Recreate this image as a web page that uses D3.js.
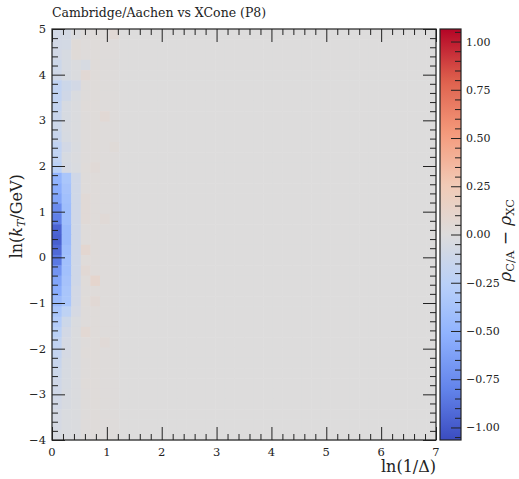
<!DOCTYPE html>
<html>
<head>
<meta charset="utf-8">
<script src="https://cdn.jsdelivr.net/npm/d3@7"></script>
<style>
  body { margin: 0; background: #fff; }
  text { font-family: "DejaVu Serif", serif; fill: #222; }
</style>
</head>
<body>
<svg class="canvas" width="519" height="479"></svg>
<script>
// bin layout of the histogram
const xRange = [0, 7];
const yRange = [-4, 5];
const nX = 40;
const nY = 40;

// rho_CA - rho_XC per bin, first columns of ln(1/Delta), listed from the top row (ln kT = 5) down
const col0 = [-0.08, -0.08, -0.08, -0.12, -0.1, -0.2, -0.2, -0.18, -0.15, -0.12,
  -0.15, -0.2, -0.2, -0.25, -0.5, -0.55, -0.6, -0.75, -0.82, -0.95,
  -0.97, -0.92, -0.85, -0.7, -0.6, -0.55, -0.45, -0.35, -0.3, -0.25,
  -0.2, -0.18, -0.15, -0.12, -0.1, -0.1, -0.08, -0.06, -0.06, -0.05];
const col1 = [-0.07, -0.07, -0.05, -0.05, -0.05, -0.12, -0.1, -0.05, -0.05, -0.04,
  -0.05, -0.08, -0.05, -0.06, -0.35, -0.38, -0.4, -0.42, -0.42, -0.45,
  -0.45, -0.42, -0.4, -0.4, -0.38, -0.36, -0.35, -0.22, -0.12, -0.08,
  -0.06, -0.06, -0.05, -0.05, -0.05, -0.04, -0.04, -0.03, -0.03, -0.03];
const col2 = [-0.02, 0.03, 0.03, -0.02, -0.02, -0.08, -0.03, -0.02, -0.02, -0.02,
  -0.02, -0.03, -0.02, -0.03, -0.1, -0.1, -0.1, -0.1, -0.1, -0.1,
  -0.1, -0.1, -0.1, -0.1, -0.1, -0.08, -0.08, -0.06, -0.03, -0.02,
  -0.02, -0.02, -0.02, -0.02, -0.02, -0.02, -0.02, -0.02, -0.02, -0.02];
const col3 = [0.01, 0.01, 0.01, -0.05, 0.05, 0.01, 0.01, 0.02, 0.01, 0.01,
  0.01, 0.01, 0.01, 0.02, 0.01, 0.01, 0.04, 0.04, 0.04, 0.01,
  0.01, 0.08, 0.02, 0.05, 0.02, 0.01, 0.02, 0.01, 0.01, 0.06,
  0.01, 0.02, 0.01, 0.01, 0.02, 0.01, 0.01, 0.01, 0.01, 0.01];
const col4 = [0.02, 0.02, 0.02, 0.02, 0.02, 0.02, 0.02, 0.02, 0.02, 0.02,
  0.02, 0.02, 0.02, 0.04, 0.02, 0.02, 0.02, 0.02, 0.02, 0.02,
  0.02, 0.02, 0.02, 0.02, 0.1, 0.02, 0.05, 0.02, 0.02, 0.02,
  0.02, 0.02, 0.02, 0.02, 0.02, 0.02, 0.02, 0.02, 0.02, 0.02];
const col5 = [0.01, 0.01, 0.01, 0.01, 0.01, 0.01, 0.01, 0.01, 0.05, 0.01,
  0.01, 0.01, 0.01, 0.01, 0.01, 0.01, 0.01, 0.01, 0.04, 0.01,
  0.01, 0.01, 0.01, 0.01, 0.01, 0.01, 0.01, 0.01, 0.01, 0.01,
  0.04, 0.01, 0.01, 0.01, 0.01, 0.01, 0.01, 0.01, 0.01, 0.01];
const col6 = [0.05, 0.01, 0.01, 0.01, 0.01, 0.01, 0.01, 0.01, 0.01, 0.01,
  0.01, 0.03, 0.01, 0.01, 0.01, 0.01, 0.01, 0.01, 0.01, 0.01,
  0.01, 0.01, 0.01, 0.01, 0.01, 0.01, 0.01, 0.01, 0.01, 0.01,
  0.01, 0.01, 0.01, 0.01, 0.01, 0.01, 0.01, 0.01, 0.01, 0.01];
const columns = [col0, col1, col2, col3, col4, col5, col6];

const xTicks = [0, 1, 2, 3, 4, 5, 6, 7];
const yTicks = [-4, -3, -2, -1, 0, 1, 2, 3, 4, 5];
const cbTicks = [-1.0, -0.75, -0.5, -0.25, 0.0, 0.25, 0.5, 0.75, 1.0];
const cbRange = [-1.065, 1.065];

// matplotlib coolwarm, sampled
const coolwarm = ["#3b4cc0", "#6384eb", "#8db0fe", "#b8d0f9", "#dddcdc",
  "#f2c9b4", "#f4987a", "#de604d", "#b40426"];

const svg = d3.select(".canvas");
const margin = { top: 29, right: 83, bottom: 39, left: 52 };
const graphWidth = 519 - margin.left - margin.right;
const graphHeight = 479 - margin.top - margin.bottom;

const x = d3.scaleLinear().domain(xRange).range([0, graphWidth]);
const y = d3.scaleLinear().domain(yRange).range([graphHeight, 0]);
const color = d3
  .scaleLinear()
  .domain(coolwarm.map((c, i) => cbRange[0] + (i / (coolwarm.length - 1)) * (cbRange[1] - cbRange[0])))
  .range(coolwarm)
  .clamp(true);

const graph = svg
  .append("g")
  .attr("transform", `translate(${margin.left}, ${margin.top})`);

const binW = (xRange[1] - xRange[0]) / nX;
const binH = (yRange[1] - yRange[0]) / nY;

let cells = [];
for (let r = 0; r < nY; r++) {
  for (let c = 0; c < nX; c++) {
    const v = c < columns.length ? columns[c][r] : 0;
    cells.push({ x0: xRange[0] + c * binW, y1: yRange[1] - r * binH, v: v });
  }
}

graph
  .selectAll("rect.cell")
  .data(cells)
  .enter()
  .append("rect")
  .attr("class", "cell")
  .attr("x", (d) => x(d.x0))
  .attr("y", (d) => y(d.y1))
  .attr("width", x(binW) - x(0) + 0.5)
  .attr("height", y(0) - y(binH) + 0.5)
  .attr("fill", (d) => color(d.v));

// axes: ticks point inwards on all four sides
const axisColor = "#222";
function ticksGroup(axisFn, scale, major, minor, len, transform) {
  const gMinor = graph.append("g").attr("transform", transform);
  gMinor.call(axisFn(scale).tickValues(minor).tickSize(-6).tickFormat(""));
  const gMajor = graph.append("g").attr("transform", transform);
  gMajor.call(axisFn(scale).tickValues(major).tickSize(-len).tickFormat(""));
  [gMinor, gMajor].forEach((g) => {
    g.select(".domain").remove();
    g.selectAll("line").attr("stroke", axisColor);
  });
}

const xMinor = d3.range(0, 7.001, 0.2).filter((v) => Math.abs(v - Math.round(v)) > 1e-6);
const yMinor = d3.range(-4, 5.001, 0.2).filter((v) => Math.abs(v - Math.round(v)) > 1e-6);

ticksGroup(d3.axisBottom, x, xTicks, xMinor, 13, `translate(0,${graphHeight})`);
ticksGroup(d3.axisTop, x, xTicks, xMinor, 13, "translate(0,0)");
ticksGroup(d3.axisLeft, y, yTicks, yMinor, 13, "translate(0,0)");
ticksGroup(d3.axisRight, y, yTicks, yMinor, 13, `translate(${graphWidth},0)`);

graph
  .append("rect")
  .attr("width", graphWidth)
  .attr("height", graphHeight)
  .attr("fill", "none")
  .attr("stroke", axisColor)
  .attr("stroke-width", 1.2);

graph
  .selectAll("text.xtick")
  .data(xTicks)
  .enter()
  .append("text")
  .attr("class", "xtick")
  .attr("x", (d) => x(d))
  .attr("y", graphHeight + 16)
  .attr("text-anchor", "middle")
  .attr("font-size", 11.5)
  .text((d) => d);

graph
  .selectAll("text.ytick")
  .data(yTicks)
  .enter()
  .append("text")
  .attr("class", "ytick")
  .attr("x", -6)
  .attr("y", (d) => y(d))
  .attr("dy", "0.36em")
  .attr("text-anchor", "end")
  .attr("font-size", 11.5)
  .text((d) => d3.format("d")(d));

// axis titles
graph
  .append("text")
  .attr("x", graphWidth)
  .attr("y", graphHeight + 32)
  .attr("text-anchor", "end")
  .attr("font-size", 16)
  .text("ln(1/Δ)");

const yLabel = graph
  .append("text")
  .attr("transform", `translate(-30,${y(0.9)}) rotate(-90)`)
  .attr("text-anchor", "middle")
  .attr("font-size", 16);
yLabel.append("tspan").text("ln(");
yLabel.append("tspan").attr("font-style", "italic").text("k");
yLabel.append("tspan").attr("font-size", 11).attr("dy", 3).attr("font-style", "italic").text("T");
yLabel.append("tspan").attr("dy", -3).text("/GeV)");

svg
  .append("text")
  .attr("x", margin.left)
  .attr("y", 17)
  .attr("font-size", 12.5)
  .text("Cambridge/Aachen vs XCone (P8)");

// colorbar
const cbX = margin.left + graphWidth + 4;
const cbW = 21;
const cb = svg.append("g").attr("transform", `translate(${cbX}, ${margin.top})`);
const cy = d3.scaleLinear().domain(cbRange).range([graphHeight, 0]);

const grad = svg
  .append("defs")
  .append("linearGradient")
  .attr("id", "cbgrad")
  .attr("x1", 0)
  .attr("y1", 1)
  .attr("x2", 0)
  .attr("y2", 0);
grad
  .selectAll("stop")
  .data(d3.range(0, 1.0001, 0.02))
  .enter()
  .append("stop")
  .attr("offset", (d) => d)
  .attr("stop-color", (d) => color(cbRange[0] + d * (cbRange[1] - cbRange[0])));

cb.append("rect").attr("width", cbW).attr("height", graphHeight).attr("fill", "url(#cbgrad)");

const cbMinor = d3.range(-1.05, 1.0501, 0.05).filter((v) => Math.abs(v * 4 - Math.round(v * 4)) > 1e-6);
const cbMinorG = cb.append("g").attr("transform", `translate(${cbW},0)`);
cbMinorG.call(d3.axisLeft(cy).tickValues(cbMinor).tickSize(6).tickFormat(""));
const cbMajorG = cb.append("g").attr("transform", `translate(${cbW},0)`);
cbMajorG.call(d3.axisLeft(cy).tickValues(cbTicks).tickSize(10).tickFormat(""));
[cbMinorG, cbMajorG].forEach((g) => {
  g.select(".domain").remove();
  g.selectAll("line").attr("stroke", axisColor);
});

cb.append("rect")
  .attr("width", cbW)
  .attr("height", graphHeight)
  .attr("fill", "none")
  .attr("stroke", axisColor)
  .attr("stroke-width", 1.2);

cb.selectAll("text.cbtick")
  .data(cbTicks)
  .enter()
  .append("text")
  .attr("class", "cbtick")
  .attr("x", cbW + 5)
  .attr("y", (d) => cy(d))
  .attr("dy", "0.36em")
  .attr("font-size", 11)
  .text((d) => d3.format(".2f")(d));

const cbLabel = cb
  .append("text")
  .attr("transform", `translate(${cbW + 50}, ${cy(-0.03)}) rotate(-90)`)
  .attr("text-anchor", "middle")
  .attr("font-size", 17);
cbLabel.append("tspan").attr("font-style", "italic").text("ρ");
cbLabel.append("tspan").attr("font-size", 11.5).attr("dy", 3).text("C/A");
cbLabel.append("tspan").attr("dy", -3).text(" − ");
cbLabel.append("tspan").attr("font-style", "italic").text("ρ");
cbLabel.append("tspan").attr("font-size", 11.5).attr("dy", 3).text("XC");
</script>
</body>
</html>
